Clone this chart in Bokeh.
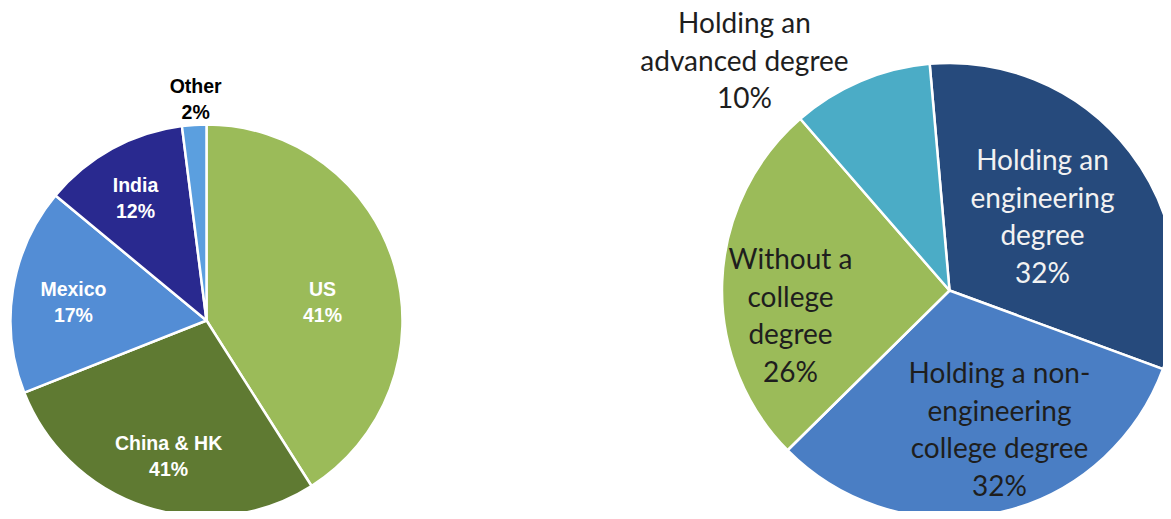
import numpy as np
from bokeh.plotting import figure
from bokeh.models import Range1d, ColumnDataSource
from bokeh.core.properties import value
from bokeh.embed import file_html
from bokeh.resources import INLINE

# ---------------- data ----------------
left_categories = ["US", "China & HK", "Mexico", "India", "Other"]
left_values = [41, 28, 17, 12, 2]
left_pct_labels = ["41%", "41%", "17%", "12%", "2%"]   # as printed on the chart
left_colors = ["#9BBB59", "#5F7A32", "#538DD5", "#29298F", "#5B9FDF"]

right_categories = ["Holding an engineering degree",
                    "Holding a non-engineering college degree",
                    "Without a college degree",
                    "Holding an advanced degree"]
right_values = [32, 32, 26, 10]
right_pct_labels = ["32%", "32%", "26%", "10%"]
right_name_lines = [["Holding an", "engineering", "degree"],
                    ["Holding a non-", "engineering", "college degree"],
                    ["Without a", "college", "degree"],
                    ["Holding an", "advanced degree"]]
right_colors = ["#264A7C", "#4A7EC4", "#9BBB59", "#4BACC6"]

# ---------------- layout / style ----------------
W, H = 1163, 511
SCREEN_H = 519  # data y = SCREEN_H - screen y

p = figure(width=W, height=H, x_range=Range1d(0, W), y_range=Range1d(SCREEN_H - H, SCREEN_H),
           output_backend="svg", toolbar_location=None, min_border=0)
p.axis.visible = False
p.grid.visible = False
p.outline_line_color = None
p.background_fill_color = "white"
p.border_fill_color = "white"


def draw_pie(cx, cy, r, values, colors, start_deg):
    v = np.asarray(values, dtype=float)
    cum = np.concatenate([[0.0], np.cumsum(v / v.sum())]) * 360.0 + start_deg  # clockwise from 12 o'clock
    t1, t2 = cum[:-1], cum[1:]
    src = ColumnDataSource(dict(start=np.radians(90 - t2), end=np.radians(90 - t1), color=colors))
    p.wedge(x=cx, y=cy, radius=r, start_angle="start", end_angle="end", source=src,
            fill_color="color", line_color="white", line_width=2.5)
    return (t1 + t2) / 2.0


def draw_labels(cx, cy, mids, nudges, radii, lines_list, spacing, font, size, style, colors):
    xs, ys, txt, cols = [], [], [], []
    for mid, nd, rr, lines, col in zip(mids, nudges, radii, lines_list, colors):
        a = np.radians(mid + nd)
        lx, ly = cx + rr * np.sin(a), cy + rr * np.cos(a)
        n = len(lines)
        for i, t in enumerate(lines):
            xs.append(lx)
            ys.append(ly + (n - 1) / 2 * spacing - i * spacing)
            txt.append(t)
            cols.append(col)
    src = ColumnDataSource(dict(x=xs, y=ys, text=txt, color=cols))
    p.text(x="x", y="y", text="text", source=src, text_align="center", text_baseline="middle",
           text_font=value(font), text_font_size=size, text_font_style=style, text_color="color")


# left pie
Lcx, Lcy, Lr = 206, SCREEN_H - 320, 196
lmids = draw_pie(Lcx, Lcy, Lr, left_values, left_colors, 0.0)
left_lines = [[c, l] for c, l in zip(left_categories, left_pct_labels)]
draw_labels(Lcx, Lcy, lmids, [6.9, -2.4, -0.9, -1.2, 0.8], [117.5, 141, 134.4, 142, 221.3],
            left_lines, 26, "Liberation Sans", "19.5px", "bold",
            ["white", "white", "white", "white", "black"])

# right pie
Rcx, Rcy, Rr = 949, SCREEN_H - 290, 227.5
rmids = draw_pie(Rcx, Rcy, Rr, right_values, right_colors, -5.0)
right_lines = [n + [l] for n, l in zip(right_name_lines, right_pct_labels)]
draw_labels(Rcx, Rcy, rmids, [-1.5, -7.7, -10.8, -18.6], [119.5, 146.8, 160.8, 308.8],
            right_lines, 37.5, "Lato", "28px", "normal",
            ["#F2F2F2", "#1E1E1E", "#1E1E1E", "#1E1E1E"])

open("out.html", "w").write(file_html(p, INLINE))
